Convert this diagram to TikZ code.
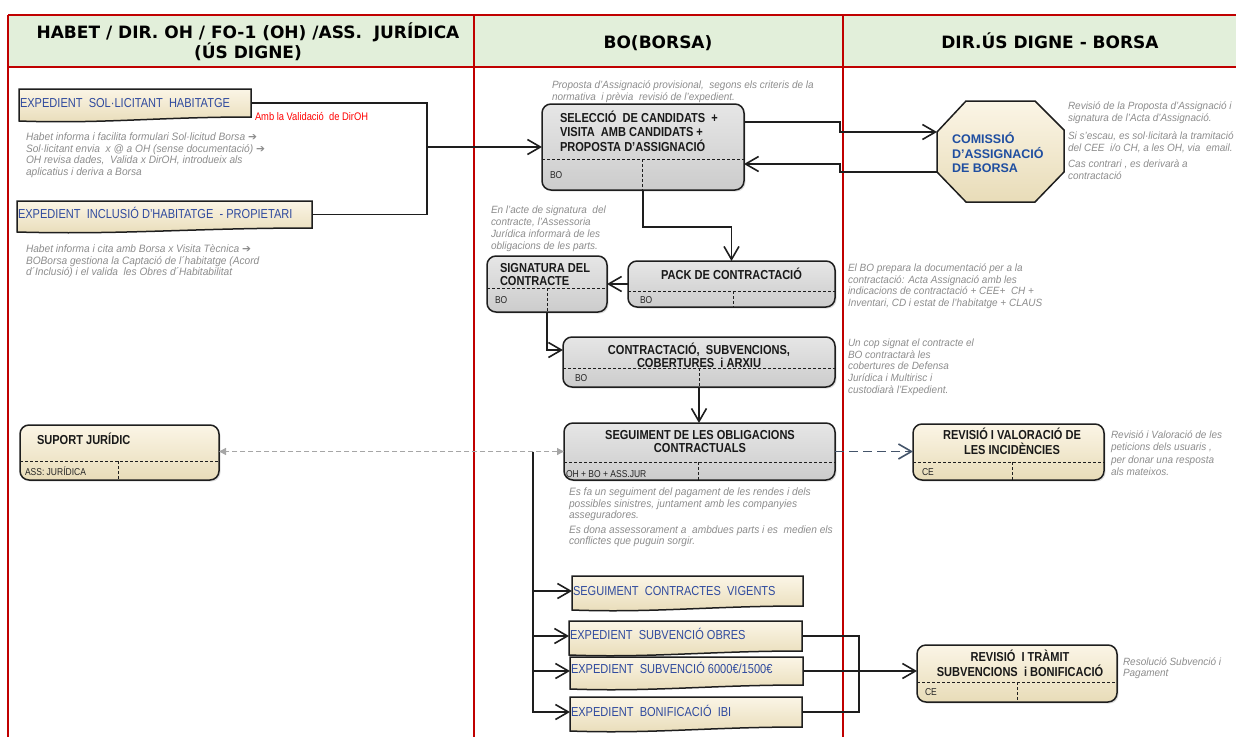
\documentclass[tikz,border=0pt]{standalone}
\usepackage{fontspec}
\setmainfont{Liberation Sans}
\newfontfamily\nar[FakeStretch=0.85]{Liberation Sans}
\newfontfamily\narg[FakeStretch=0.95]{Liberation Sans}
\newfontfamily\hdrf{DejaVu Sans}
\newfontfamily\symf{DejaVu Sans}
\usetikzlibrary{arrows.meta,calc,shadows}
\definecolor{redline}{RGB}{192,0,0}
\definecolor{hdrfill}{RGB}{226,239,218}
\definecolor{txtgray}{RGB}{140,140,140}
\definecolor{docblue}{RGB}{47,74,158}
\definecolor{octblue}{RGB}{31,78,160}
\definecolor{creamtop}{RGB}{251,245,230}
\definecolor{creambot}{RGB}{232,220,184}
\definecolor{graytop}{RGB}{230,230,230}
\definecolor{graybot}{RGB}{204,204,204}
\definecolor{edge}{RGB}{30,30,30}
\definecolor{dashgray}{RGB}{166,166,166}
\definecolor{dashblue}{RGB}{68,84,106}
\definecolor{redtxt}{RGB}{255,0,0}
\newcommand\myL[1]{\begin{tabular}[t]{@{}l@{}}#1\end{tabular}}
\newcommand\myC[1]{\begin{tabular}[t]{@{}c@{}}#1\end{tabular}}
\newcommand\arr{{\symf\upshape ➔}}
\newcommand\docshape[1]{%
  \draw[docst] (#1.north west) -- (#1.north east) -- (#1.south east)
    .. controls ($(#1.south east)!0.4!(#1.south west)$) and ($(#1.south east)!0.65!(#1.south west)+(0,7)$) .. ($(#1.south west)+(0,4)$) -- cycle;}
\tikzset{
  >={Straight Barb[length=13pt,width=15pt,line width=1.6pt]},
  redl/.style={draw=redline, line width=1.5pt},
  boxbase/.style={draw=edge, line width=1.5pt, rounded corners=9pt, anchor=north west,
     drop shadow={shadow xshift=1.5pt, shadow yshift=-1.5pt, opacity=0.25}},
  gbox/.style={boxbase, top color=graytop, bottom color=graybot},
  cbox/.style={boxbase, top color=creamtop, bottom color=creambot},
  docn/.style={anchor=north west},
  docst/.style={draw=edge, line width=1.5pt, top color=creamtop, bottom color=creambot},
  octst/.style={draw=edge, line width=1.5pt, top color=creamtop, bottom color=creambot},
  sepl/.style={draw=edge, line width=0.6pt, dash pattern=on 3pt off 2pt},
  conn/.style={draw=edge, line width=1.5pt},
  gdash/.style={draw=dashgray, line width=1.2pt, dash pattern=on 5pt off 3pt,
     {Triangle[length=7pt,width=7pt]}-{Triangle[length=7pt,width=7pt]}},
  bdash/.style={draw=dashblue, line width=1.7pt, dash pattern=on 9pt off 5pt, ->},
  hdrt/.style={font=\hdrf\bfseries\fontsize{17}{19}\selectfont, anchor=base},
  titl/.style={font=\nar\bfseries\fontsize{13}{13}\selectfont, text=black!90},
  lanet/.style={font=\nar\fontsize{10}{12}\selectfont, anchor=base west, text=black!85},
  doct/.style={font=\nar\fontsize{13}{15}\selectfont, text=docblue, anchor=base west},
  grayt/.style={font=\narg\itshape\fontsize{10.7}{11.7}\selectfont, text=txtgray, anchor=base west},
  octt/.style={font=\bfseries\fontsize{12.5}{14.5}\selectfont, text=octblue, anchor=base west},
}
\begin{document}
\begin{tikzpicture}[x=1pt, y=-1pt, every node/.style={inner sep=0pt, outer sep=0pt}]
\useasboundingbox (0,0) rectangle (1236,736);
% ---------- swimlane frame ----------
\fill[hdrfill] (8,15) rectangle (1238,67);
\draw[redl] (8,15) -- (1238,15);
\draw[redl] (8,67) -- (1238,67);
\draw[redl] (8,15) -- (8,737);
\draw[redl] (474,15) -- (474,737);
\draw[redl] (843,15) -- (843,737);
\node[hdrt] (h1) at (248,38) {\myC{HABET / DIR. OH / FO-1 (OH) /ASS.\ \ JURÍDICA\\[-1pt](ÚS DIGNE)}};
\node[hdrt] (h2) at (658,48) {BO(BORSA)};
\node[hdrt] (h3) at (1050,48) {DIR.ÚS DIGNE - BORSA};

% ---------- document shapes ----------
\node[docn, minimum width=232, minimum height=28] (e1) at (19,89) {};
\node[docn, minimum width=295, minimum height=27] (e2) at (17,201) {};
\node[docn, minimum width=231, minimum height=30] (scv) at (572,576) {};
\node[docn, minimum width=233, minimum height=30] (obr) at (569,621) {};
\node[docn, minimum width=233, minimum height=28] (s6) at (570,657) {};
\node[docn, minimum width=232, minimum height=30] (ibi) at (570,697) {};
\docshape{e1}
\docshape{e2}
\docshape{scv}
\docshape{obr}
\docshape{s6}
\docshape{ibi}

% ---------- rounded lane boxes ----------
\node[gbox, minimum width=202, minimum height=86] (sel) at (542,104) {};
\node[gbox, minimum width=120, minimum height=56] (sig) at (487,256) {};
\node[gbox, minimum width=207, minimum height=46] (pack) at (628,261) {};
\node[gbox, minimum width=272, minimum height=50] (con) at (563,337) {};
\node[gbox, minimum width=271, minimum height=57] (seg) at (564,423) {};
\node[cbox, minimum width=191, minimum height=56] (rev) at (913,424) {};
\node[cbox, minimum width=200, minimum height=57] (rt) at (917,645) {};
\node[cbox, minimum width=199, minimum height=55] (sup) at (20,425) {};
% separators
\draw[sepl] (542,159) -- (744,159); \draw[sepl] (642,159) -- (642,190);
\draw[sepl] (487,288) -- (607,288); \draw[sepl] (547,288) -- (547,312);
\draw[sepl] (628,291) -- (835,291); \draw[sepl] (733,291) -- (733,307);
\draw[sepl] (563,368) -- (835,368); \draw[sepl] (699,368) -- (699,387);
\draw[sepl] (564,462) -- (835,462); \draw[sepl] (698,462) -- (698,480);
\draw[sepl] (913,462) -- (1104,462); \draw[sepl] (1012,462) -- (1012,480);
\draw[sepl] (917,682) -- (1117,682); \draw[sepl] (1017,682) -- (1017,702);
\draw[sepl] (20,461) -- (219,461); \draw[sepl] (118,461) -- (118,480);

% ---------- octagon ----------
\node[anchor=north west, minimum width=127, minimum height=101] (com) at (937,101) {};
\draw[octst] (966,101) -- (1035,101) -- (1064,130) -- (1064,172) -- (1035,202) -- (966,202) -- (937,172) -- (937,132) -- cycle;

% ---------- connectors ----------
\coordinate (jn) at (427,147);
\draw[conn] (e1.east) -| (jn) |- (e2.east);
\draw[conn,->] (jn) -- (jn -| sel.west);
\draw[conn,->] ($(sel.east)+(0,-25)$) -- ++(96,0) -- ++(0,10) -- ($(com.west)+(0,-19.5)$);
\draw[conn,->] ($(com.west)+(0,20.5)$) -- ++(-97,0) -- ++(0,-8) -- ($(sel.east)+(0,17)$);
\draw[conn,->] (sel.south) -- ++(0,37) -| (pack.north);
\draw[conn,->] (pack.west) -- (sig.east);
\draw[conn,->] (sig.south) |- ($(con.west)+(0,-12)$);
\draw[conn,->] (con.south) -- (con.south |- seg.north);
\draw[gdash] (seg.west) -- (seg.west -| sup.east);
\draw[bdash] (seg.east) -- (seg.east -| rev.west);
\coordinate (bk) at ($(seg.west)+(-31,0)$);
\draw[conn,->] (bk) |- (ibi.west);
\draw[conn,->] (bk |- scv.west) -- (scv.west);
\draw[conn,->] (bk |- obr.west) -- (obr.west);
\draw[conn,->] (bk |- s6.west) -- (s6.west);
\draw[conn] (obr.east) -- ++(57,0) |- (ibi.east);
\draw[conn,->] (s6.east) -- (s6.east -| rt.west);

% ---------- box titles ----------
\node[titl, anchor=base west, font=\nar\bfseries\fontsize{13}{13.5}\selectfont] (selT) at (560,122.5) {\myL{SELECCIÓ\ \ DE CANDIDATS\ \ +\\VISITA\ \ AMB CANDIDATS +\\PROPOSTA D’ASSIGNACIÓ}};
\node[titl, anchor=base west, font=\nar\bfseries\fontsize{13}{12}\selectfont] (sigT) at (500,272.5) {\myL{SIGNATURA DEL\\CONTRACTE}};
\node[titl, anchor=base] (packT) at (731.5,279.5) {PACK DE CONTRACTACIÓ};
\node[titl, anchor=base, font=\nar\bfseries\fontsize{13}{12}\selectfont] (conT) at (699,354.5) {\myC{CONTRACTACIÓ,\ \ SUBVENCIONS,\\COBERTURES\ \ i ARXIU}};
\node[titl, anchor=base, font=\nar\bfseries\fontsize{13}{12}\selectfont] (segT) at (700,439.5) {\myC{SEGUIMENT DE LES OBLIGACIONS\\CONTRACTUALS}};
\node[titl, anchor=base, font=\nar\bfseries\fontsize{13}{12}\selectfont] (revT) at (1012,439.5) {\myC{REVISIÓ I VALORACIÓ DE\\LES INCIDÈNCIES}};
\node[titl, anchor=base, font=\nar\bfseries\fontsize{13}{13}\selectfont] (rtT) at (1020,661.5) {\myC{REVISIÓ\ \ I TRÀMIT\\SUBVENCIONS\ \ i BONIFICACIÓ}};
\node[titl, anchor=base west] (supT) at (37,444.5) {SUPORT JURÍDIC};
\node[octt] (comT) at (952,143) {\myL{COMISSIÓ\\D’ASSIGNACIÓ\\DE BORSA}};

% lane labels
\node[lanet] (selL) at (550,178.5) {BO};
\node[lanet] (sigL) at (495,303) {BO};
\node[lanet] (packL) at (640,303) {BO};
\node[lanet] (conL) at (575,381) {BO};
\node[lanet] (segL) at (566,477) {OH + BO + ASS.JUR};
\node[lanet] (revL) at (922,475) {CE};
\node[lanet] (rtL) at (925,695) {CE};
\node[lanet] (supL) at (25,475) {ASS: JURÍDICA};

% document texts
\node[doct] (e1T) at (20,107.5) {EXPEDIENT\ \ SOL·LICITANT\ \ HABITATGE};
\node[doct] (e2T) at (18,218.5) {EXPEDIENT\ \ INCLUSIÓ D’HABITATGE\ \ - PROPIETARI};
\node[doct] (scvT) at (573,595.5) {SEGUIMENT\ \ CONTRACTES\ \ VIGENTS};
\node[doct] (obrT) at (570,639.5) {EXPEDIENT\ \ SUBVENCIÓ OBRES};
\node[doct] (s6T) at (571,673.5) {EXPEDIENT\ \ SUBVENCIÓ 6000€/1500€};
\node[doct] (ibiT) at (571,716.5) {EXPEDIENT\ \ BONIFICACIÓ\ \ IBI};
\node[doct, font=\nar\fontsize{11}{12}\selectfont, text=redtxt] (valT) at (255,120.5) {Amb la Validació\ \ de DirOH};

% ---------- gray notes ----------
\node[grayt] (n1) at (26,140.5) {\myL{Habet informa i facilita formulari Sol·licitud Borsa \arr\\Sol·licitant envia\ \ x @ a OH (sense documentació) \arr\\OH revisa dades,\ \ Valida x DirOH, introdueix als\\aplicatius i deriva a Borsa}};
\node[grayt] (n2) at (26,252.5) {\myL{Habet informa i cita amb Borsa x Visita Tècnica \arr\\BOBorsa gestiona la Captació de l´habitatge (Acord\\d´Inclusió) i el valida\ \ les Obres d´Habitabilitat}};
\node[grayt, font=\narg\itshape\fontsize{10.5}{12}\selectfont] (n3) at (552,88.5) {\myL{Proposta d’Assignació provisional,\ \ segons els criteris de la\\normativa\ \ i prèvia\ \ revisió de l’expedient.}};
\node[grayt, font=\narg\itshape\fontsize{10.5}{12}\selectfont] (n4) at (1068,109.5) {\myL{Revisió de la Proposta d’Assignació i\\signatura de l’Acta d’Assignació.\\[6pt]Si s’escau, es sol·licitarà la tramitació\\del CEE\ \ i/o CH, a les OH, via\ \ email.\\[4pt]Cas contrari , es derivarà a\\contractació}};
\node[grayt, font=\narg\itshape\fontsize{10.5}{12}\selectfont] (n5) at (491,213.5) {\myL{En l’acte de signatura\ \ del\\contracte, l’Assessoria\\Jurídica informarà de les\\obligacions de les parts.}};
\node[grayt, font=\narg\itshape\fontsize{10.5}{11.7}\selectfont] (n6) at (848,271.5) {\myL{El BO prepara la documentació per a la\\contractació: Acta Assignació amb les\\indicacions de contractació + CEE+\ \ CH +\\Inventari, CD i estat de l’habitatge + CLAUS}};
\node[grayt, font=\narg\itshape\fontsize{10.5}{11.7}\selectfont] (n7) at (848,346.5) {\myL{Un cop signat el contracte el\\BO contractarà les\\cobertures de Defensa\\Jurídica i Multirisc i\\custodiarà l’Expedient.}};
\node[grayt] (n8) at (569,495.5) {\myL{Es fa un seguiment del pagament de les rendes i dels\\possibles sinistres, juntament amb les companyies\\asseguradores.\\[2.5pt]Es dona assessorament a\ \ ambdues parts i es\ \ medien els\\conflictes que puguin sorgir.}};
\node[grayt, font=\narg\itshape\fontsize{10.5}{12.3}\selectfont] (n9) at (1111,438.5) {\myL{Revisió i Valoració de les\\peticions dels usuaris ,\\per donar una resposta\\als mateixos.}};
\node[grayt, font=\narg\itshape\fontsize{10.5}{11}\selectfont] (n10) at (1123,665) {\myL{Resolució Subvenció i\\Pagament}};
\end{tikzpicture}
\end{document}
